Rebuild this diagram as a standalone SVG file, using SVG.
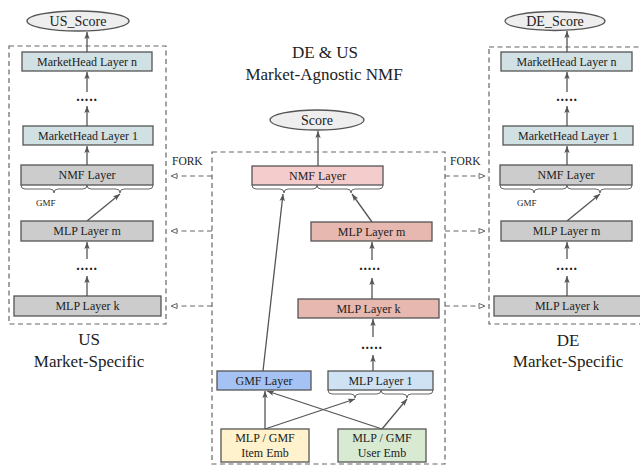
<svg xmlns="http://www.w3.org/2000/svg" width="640" height="467" viewBox="0 0 640 467" font-family="'Liberation Serif', 'DejaVu Serif', serif">
<style>
  text { font-family: 'Liberation Serif', 'DejaVu Serif', serif; fill: #222; }
  .t { font-size: 12px; text-anchor: middle; }
  .e { font-size: 14px; text-anchor: middle; }
  .big { font-size: 17px; text-anchor: middle; }
  .small { font-size: 9px; }
  .fork { font-size: 11.5px; }
  .dots { font-size: 14px; font-weight: bold; text-anchor: middle; letter-spacing: 0.8px; }
  .box { stroke: #555; stroke-width: 1.3; }
  .mh { fill: #d0e0e3; }
  .gray { fill: #cccccc; }
  .pink { fill: #f4cccc; }
  .salmon { fill: #e6b8af; }
  .blue { fill: #a4c2f4; }
  .lblue { fill: #cfe2f3; }
  .yellow { fill: #fff2cc; }
  .green { fill: #d9ead3; }
  .ell { fill: #eeeeee; stroke: #555; stroke-width: 1.3; }
  .dash { fill: none; stroke: #666; stroke-width: 1.2; stroke-dasharray: 5 3.5; }
  .arr { fill: none; stroke: #555; stroke-width: 1.3; marker-end: url(#ah); }
  .farr { fill: none; stroke: #666; stroke-width: 1.2; stroke-dasharray: 5 3.5; marker-end: url(#oh); }
  .brace { fill: none; stroke: #666; stroke-width: 1; }
</style>
<defs>
  <marker id="ah" markerWidth="8" markerHeight="8" refX="7" refY="4" orient="auto" markerUnits="userSpaceOnUse">
    <path d="M0,1.3 L7,4 L0,6.7 L1.5,4 z" fill="#555"/>
  </marker>
  <marker id="oh" markerWidth="9" markerHeight="8" refX="7" refY="4" orient="auto" markerUnits="userSpaceOnUse">
    <path d="M1,1.5 L7,4 L1,6.5 z" fill="#fff" stroke="#666" stroke-width="1"/>
  </marker>
</defs>
<rect width="640" height="467" fill="#fff"/>

<!-- titles -->
<g id="titles" font-family="'Liberation Serif', serif">
  <text class="big" x="325" y="58">DE &amp; US</text>
  <text class="big" x="324" y="80">Market-Agnostic NMF</text>
  <text class="big" x="89" y="345">US</text>
  <text class="big" x="89" y="367">Market-Specific</text>
  <text class="big" x="568" y="346">DE</text>
  <text class="big" x="568" y="367">Market-Specific</text>
  <text class="fork" x="172" y="165">FORK</text>
  <text class="fork" x="450" y="165">FORK</text>
</g>

<!-- panels -->
<g id="panels">
  <rect class="dash" x="9" y="46" width="157" height="278"/>
  <rect class="dash" x="212" y="152" width="233" height="312"/>
  <rect class="dash" x="489" y="47" width="160" height="277"/>
</g>

<!-- connectors -->
<g id="connectors">
  <line class="arr" x1="87" y1="52" x2="87" y2="32"/>
  <line class="arr" x1="87" y1="92" x2="87" y2="72"/>
  <line class="arr" x1="87" y1="126" x2="87" y2="106"/>
  <line class="arr" x1="87" y1="165" x2="87" y2="146"/>
  <line class="arr" x1="87" y1="221" x2="120" y2="194"/>
  <line class="arr" x1="87" y1="259" x2="87" y2="242"/>
  <line class="arr" x1="87" y1="296" x2="87" y2="276"/>
  <line class="arr" x1="318" y1="166" x2="318" y2="131"/>
  <line class="arr" x1="372" y1="222" x2="352" y2="194"/>
  <line class="arr" x1="372" y1="260" x2="372" y2="242"/>
  <line class="arr" x1="372" y1="299" x2="372" y2="278"/>
  <line class="arr" x1="373" y1="337" x2="373" y2="319"/>
  <line class="arr" x1="373" y1="371" x2="373" y2="355"/>
  <line class="arr" x1="263" y1="371" x2="283" y2="194"/>
  <line class="arr" x1="265" y1="429" x2="265" y2="391"/>
  <line class="arr" x1="265" y1="429" x2="355" y2="399"/>
  <line class="arr" x1="382" y1="429" x2="267" y2="391"/>
  <line class="arr" x1="382" y1="429" x2="407" y2="399"/>
  <line class="arr" x1="567" y1="52" x2="567" y2="31"/>
  <line class="arr" x1="567" y1="92" x2="567" y2="72"/>
  <line class="arr" x1="567" y1="126" x2="567" y2="106"/>
  <line class="arr" x1="567" y1="165" x2="567" y2="146"/>
  <line class="arr" x1="567" y1="221" x2="600" y2="194"/>
  <line class="arr" x1="567" y1="259" x2="567" y2="242"/>
  <line class="arr" x1="567" y1="296" x2="567" y2="276"/>
  <line class="farr" x1="212" y1="176" x2="171" y2="176"/>
  <line class="farr" x1="212" y1="231" x2="171" y2="231"/>
  <line class="farr" x1="212" y1="306" x2="171" y2="306"/>
  <line class="farr" x1="445" y1="176" x2="485" y2="176"/>
  <line class="farr" x1="445" y1="231" x2="485" y2="231"/>
  <line class="farr" x1="445" y1="306" x2="485" y2="306"/>
</g>

<!-- left nodes -->
<g id="us-score"><ellipse class="ell" cx="78" cy="21" rx="51" ry="10"/><text class="e" x="78" y="26">US_Score</text></g>
<g id="us-mh-n"><rect class="box mh" x="22" y="52" width="130" height="19"/><text class="t" x="87" y="66">MarketHead Layer n</text></g>
<g id="us-dots1"><text class="dots" x="87" y="101">.....</text></g>
<g id="us-mh-1"><rect class="box mh" x="23" y="126" width="130" height="19"/><text class="t" x="88" y="140">MarketHead Layer 1</text></g>
<g id="us-nmf"><rect class="box gray" x="21" y="165" width="132" height="20"/><text class="t" x="87" y="179">NMF Layer</text>
  <path class="brace" d="M21,185 Q21,189 25,189 L50,189 Q54,189 54,193 Q54,189 58,189 L83,189 Q87,189 87,185 Q87,189 91,189 L116,189 Q120,189 120,193 Q120,189 124,189 L149,189 Q153,189 153,185"/>
  <text class="small" x="36" y="206">GMF</text></g>
<g id="us-mlp-m"><rect class="box gray" x="21" y="221" width="132" height="20"/><text class="t" x="87" y="235">MLP Layer m</text></g>
<g id="us-dots2"><text class="dots" x="87" y="270">.....</text></g>
<g id="us-mlp-k"><rect class="box gray" x="14" y="296" width="147" height="20"/><text class="t" x="87.5" y="310">MLP Layer k</text></g>

<!-- center nodes -->
<g id="score"><ellipse class="ell" cx="317" cy="120" rx="47" ry="10"/><text class="e" x="317" y="125">Score</text></g>
<g id="nmf"><rect class="box pink" x="252" y="166" width="131" height="19"/><text class="t" x="317.5" y="180">NMF Layer</text>
  <path class="brace" d="M252,185 Q252,189 256,189 L280,189 Q284,189 284,193 Q284,189 288,189 L313,189 Q317,189 317,185 Q317,189 321,189 L347,189 Q351,189 351,193 Q351,189 355,189 L379,189 Q383,189 383,185"/></g>
<g id="mlp-m"><rect class="box salmon" x="311" y="222" width="121" height="19"/><text class="t" x="371.5" y="236">MLP Layer m</text></g>
<g id="dots1"><text class="dots" x="370" y="270">.....</text></g>
<g id="mlp-k"><rect class="box salmon" x="298" y="299" width="141" height="19"/><text class="t" x="368.5" y="313">MLP Layer k</text></g>
<g id="dots2"><text class="dots" x="372" y="349">.....</text></g>
<g id="gmf"><rect class="box blue" x="217" y="371" width="94" height="19"/><text class="t" x="264" y="385">GMF Layer</text></g>
<g id="mlp-1"><rect class="box lblue" x="328" y="371" width="105" height="19"/><text class="t" x="380.5" y="385">MLP Layer 1</text>
  <path class="brace" d="M328,390 Q328,394 332,394 L351,394 Q355,394 355,398 Q355,394 359,394 L377,394 Q381,394 381,390 Q381,394 385,394 L403,394 Q407,394 407,398 Q407,394 411,394 L429,394 Q433,394 433,390"/></g>
<g id="item-emb"><rect class="box yellow" x="221" y="429" width="88" height="33"/><text class="t" x="265" y="442">MLP / GMF</text><text class="t" x="265" y="457">Item Emb</text></g>
<g id="user-emb"><rect class="box green" x="338" y="429" width="88" height="33"/><text class="t" x="382" y="442">MLP / GMF</text><text class="t" x="382" y="457">User Emb</text></g>

<!-- right nodes -->
<g id="de-score"><ellipse class="ell" cx="555" cy="21" rx="50" ry="9.5"/><text class="e" x="555" y="26">DE_Score</text></g>
<g id="de-mh-n"><rect class="box mh" x="501" y="52" width="131" height="19"/><text class="t" x="566.5" y="66">MarketHead Layer n</text></g>
<g id="de-dots1"><text class="dots" x="567" y="101">.....</text></g>
<g id="de-mh-1"><rect class="box mh" x="503" y="126" width="130" height="19"/><text class="t" x="568" y="140">MarketHead Layer 1</text></g>
<g id="de-nmf"><rect class="box gray" x="500" y="165" width="132" height="20"/><text class="t" x="566" y="179">NMF Layer</text>
  <path class="brace" d="M500,185 Q500,189 504,189 L530,189 Q534,189 534,193 Q534,189 538,189 L563,189 Q567,189 567,185 Q567,189 571,189 L596,189 Q600,189 600,193 Q600,189 604,189 L628,189 Q632,189 632,185"/>
  <text class="small" x="517" y="206">GMF</text></g>
<g id="de-mlp-m"><rect class="box gray" x="501" y="221" width="131" height="20"/><text class="t" x="566.5" y="235">MLP Layer m</text></g>
<g id="de-dots2"><text class="dots" x="567" y="270">.....</text></g>
<g id="de-mlp-k"><rect class="box gray" x="494" y="296" width="148" height="20"/><text class="t" x="567" y="310">MLP Layer k</text></g>
</svg>
